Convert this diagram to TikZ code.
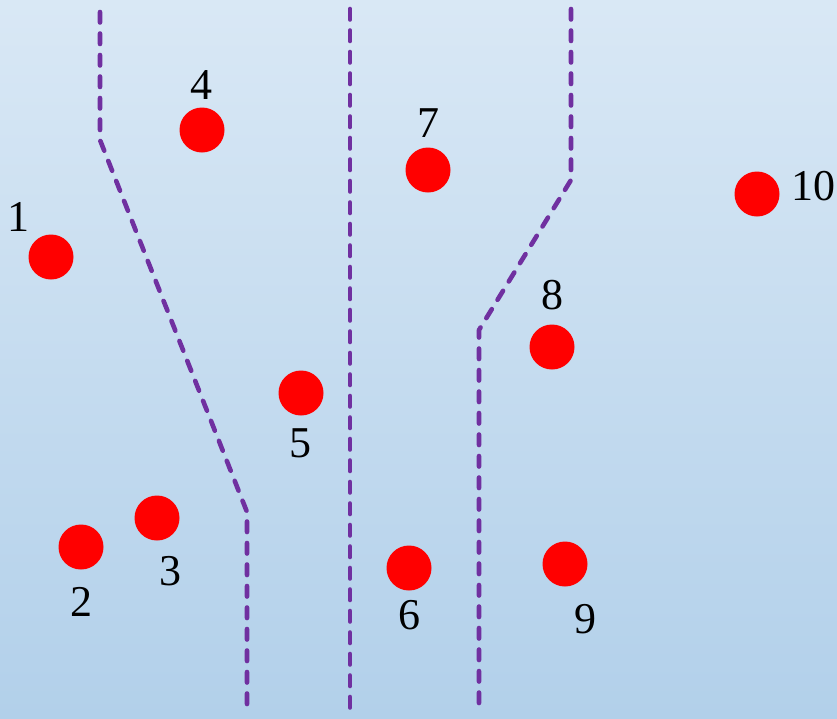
\documentclass[tikz,border=0pt]{standalone}
\usepackage{fontspec}
\setmainfont{Liberation Serif}
\usepackage{xcolor}
\definecolor{bgtop}{HTML}{D9E8F5}
\definecolor{bgbottom}{HTML}{B2D0EA}
\definecolor{fence}{HTML}{7030A0}
\definecolor{pin}{HTML}{FF0000}
\tikzset{
  pinpoint/.style={circle,fill=pin,minimum size=45pt,inner sep=0pt},
  pinlabel/.style={inner sep=0pt,font=\rmfamily\fontsize{44}{50}\selectfont},
  border/.style={draw=fence,line width=4.6pt,line cap=round,line join=round,
                 dash pattern=on 10.5pt off 11pt}
}

\begin{document}
\begin{tikzpicture}[x=1pt,y=-1pt]
  \useasboundingbox (0,0) rectangle (837,718);
  \shade[top color=bgtop,bottom color=bgbottom] (0,0) rectangle (837,718);
  % region borders
  \draw[border] (100,12) -- (100,140) -- (247,512) -- (247,710);
  \draw[border] (350,9) -- (350,713);
  \draw[border] (571,9) -- (571,180) -- (479,330) -- (479,710);
  % points and their numbers
  \foreach \n/\x/\y/\lx/\ly in {1/51/257/19/217, 2/81/547/81/602, 3/157/518/170/571,
      4/202/130/201/85, 5/301/393/300/443, 6/409/568/409/615, 7/428/170/428/123,
      8/552/347/552/295, 9/565/564/585/619, 10/757/194/813/186} {
    \node[pinpoint] (dot\n) at (\x,\y) {};
    \node[pinlabel] (lab\n) at (\lx,\ly) {\n};
  }
\end{tikzpicture}
\end{document}
